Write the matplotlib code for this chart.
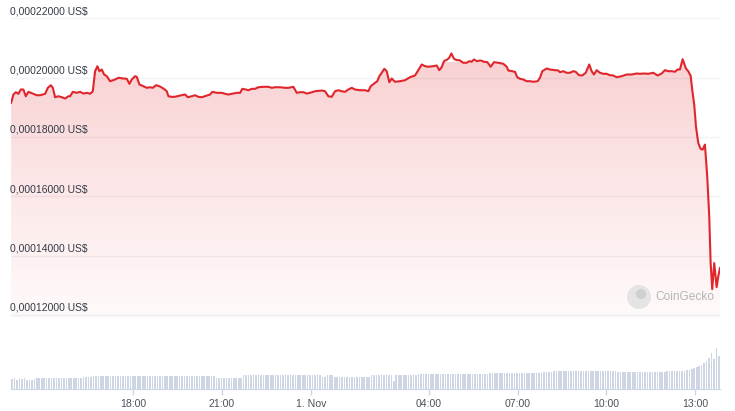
import matplotlib.pyplot as plt
import numpy as np
from matplotlib.colors import LinearSegmentedColormap
from matplotlib.patches import Circle

# hours relative to 1 Nov 00:00, price in 1e-6 US$
hours = [-10.136, -10.058, -9.977, -9.889, -9.808, -9.720, -9.639, -9.551, -9.382, -9.267,
         -9.155, -8.986, -8.895, -8.793, -8.726, -8.648, -8.536, -8.421, -8.310, -8.198,
         -8.140, -8.049, -7.914, -7.802, -7.691, -7.555, -7.464, -7.373, -7.295, -7.217,
         -7.150, -7.068, -6.991, -6.899, -6.788, -6.619, -6.507, -6.338, -6.223, -6.135,
         -6.054, -5.942, -5.885, -5.797, -5.661, -5.546, -5.435, -5.344, -5.232, -5.120,
         -4.985, -4.870, -4.816, -4.701, -4.589, -4.420, -4.251, -4.160, -4.025, -3.913,
         -3.801, -3.686, -3.517, -3.406, -3.328, -3.179, -3.010, -2.898, -2.787, -2.618,
         -2.503, -2.391, -2.313, -2.198, -2.110, -1.995, -1.884, -1.772, -1.603, -1.434,
         -1.319, -1.207, -1.038, -0.869, -0.758, -0.588, -0.473, -0.362, -0.250, -0.135,
         -0.024, 0.145, 0.372, 0.484, 0.595, 0.710, 0.822, 0.933, 1.048, 1.160,
         1.272, 1.387, 1.498, 1.667, 1.836, 1.948, 2.029, 2.175, 2.252, 2.320,
         2.401, 2.489, 2.570, 2.658, 2.739, 2.851, 3.020, 3.189, 3.358, 3.527,
         3.639, 3.754, 3.866, 3.977, 4.146, 4.261, 4.349, 4.430, 4.508, 4.620,
         4.687, 4.755, 4.846, 4.938, 5.026, 5.161, 5.276, 5.364, 5.445, 5.523,
         5.614, 5.749, 5.861, 5.973, 6.088, 6.199, 6.345, 6.514, 6.629, 6.683,
         6.798, 6.909, 6.987, 7.079, 7.190, 7.305, 7.417, 7.528, 7.677, 7.755,
         7.833, 7.982, 8.093, 8.262, 8.374, 8.431, 8.543, 8.658, 8.770, 8.881,
         8.962, 9.074, 9.185, 9.301, 9.422, 9.503, 9.581, 9.673, 9.784, 9.896,
         10.011, 10.122, 10.234, 10.349, 10.518, 10.687, 10.856, 11.025, 11.137, 11.249,
         11.418, 11.587, 11.736, 11.871, 11.982, 12.094, 12.209, 12.321, 12.412, 12.490,
         12.581, 12.693, 12.770, 12.852, 12.913, 12.973, 13.031, 13.109, 13.190, 13.257,
         13.335, 13.413, 13.481, 13.528, 13.582, 13.650, 13.731, 13.785, 13.843]
price_micro = [191.55, 194.36, 195.14, 194.60, 196.05, 196.05, 193.78, 195.27, 194.60, 194.12,
               194.12, 194.60, 196.62, 197.50, 196.62, 193.45, 193.78, 193.45, 193.01, 193.78,
               193.78, 195.27, 194.93, 195.27, 194.70, 194.93, 194.60, 195.47, 202.23, 203.92,
               202.23, 202.80, 201.11, 200.54, 198.85, 199.43, 200.00, 199.76, 199.66, 197.97,
               199.43, 200.54, 200.34, 197.74, 197.16, 196.62, 196.82, 196.62, 197.50, 197.16,
               196.39, 195.47, 193.78, 193.58, 193.61, 194.02, 194.36, 193.45, 193.78, 194.12,
               193.58, 193.45, 194.02, 194.36, 195.27, 194.93, 194.93, 194.60, 194.36, 194.70,
               194.93, 194.93, 196.28, 196.05, 195.81, 196.28, 196.28, 196.82, 196.96, 196.96,
               196.62, 196.82, 196.82, 196.62, 196.62, 196.96, 194.93, 195.14, 195.14, 194.70,
               194.93, 195.47, 195.71, 195.47, 193.78, 193.58, 195.47, 195.81, 195.47, 195.27,
               196.05, 196.62, 196.05, 195.81, 195.81, 195.47, 197.16, 198.31, 198.85, 200.54,
               201.69, 203.04, 202.23, 198.51, 199.76, 198.65, 198.85, 199.19, 200.20, 200.78,
               202.57, 204.49, 203.92, 203.72, 203.92, 204.15, 202.57, 203.58, 205.61, 206.18,
               206.76, 208.21, 206.42, 205.95, 205.95, 205.07, 205.07, 205.61, 205.40, 206.18,
               205.61, 205.84, 205.40, 205.27, 203.72, 205.27, 205.07, 204.73, 203.72, 202.47,
               202.23, 202.03, 200.20, 199.66, 199.43, 198.85, 198.85, 198.65, 198.85, 200.00,
               202.23, 203.14, 202.80, 202.57, 202.47, 201.89, 202.23, 201.69, 201.69, 202.23,
               202.03, 200.88, 200.78, 201.69, 204.49, 202.23, 201.11, 202.57, 201.69, 201.35,
               201.35, 200.88, 200.78, 200.20, 200.54, 201.11, 201.11, 201.45, 201.35, 201.45,
               201.35, 201.69, 200.78, 201.45, 202.57, 202.23, 202.23, 202.03, 202.80, 202.80,
               206.28, 203.14, 202.23, 200.68, 195.37, 190.98, 183.65, 178.04, 176.02, 175.78,
               177.47, 166.76, 153.25, 137.51, 128.72, 137.51, 129.40, 132.98, 135.82]

# relative volume, one bar per 5 minutes (12 per hour)
volume = [
    10, 11, 9.5, 11, 10.5, 11, 9.5, 9, 9.5, 10.5, 11, 11,
    11, 11.5, 11, 11.3, 11, 11.5, 11.3, 11, 11.3, 11.5, 11.3, 11.3,
    11.3, 11.5, 11.3, 11.5, 11.5, 11.8, 12, 12, 12.3, 12.7, 12.7, 13,
    13.3, 13.3, 13.3, 13.3, 13.3, 13.3, 13.3, 13.3, 13.3, 13.3, 13.3, 13.3,
    13.3, 13.3, 13.3, 13.3, 13.3, 13.3, 13.3, 13.3, 13.3, 13.3, 13.3, 13.3,
    13.3, 13.3, 13.3, 13.3, 13.3, 13.3, 13.3, 13.3, 13.3, 13.3, 13.3, 13.3,
    13.3, 13.3, 13.3, 13.3, 13.3, 13.3, 13.3, 13.3, 13.3, 13.3, 13.3, 11.3,
    11.3, 11.3, 11.3, 11.3, 11.3, 11.3, 11.3, 11.3, 11.3, 11.3, 14.3, 14.3,
    14.3, 14.3, 14.3, 14.3, 14.3, 14.3, 14.3, 14.3, 14.3, 14.3, 14.3, 14.3,
    14.3, 14.3, 14.3, 14.3, 14.3, 14.3, 14.3, 14.3, 14.3, 14.3, 14.3, 14.3,
    14.3, 14.3, 14.3, 14.3, 14.3, 14.3, 12, 12, 13.7, 13.7, 13.7, 12.3,
    12.3, 12.3, 12.3, 12.3, 12.3, 12.3, 12.3, 12.3, 12.3, 12.3, 12.3, 12.3,
    12.3, 12.3, 13.7, 13.7, 13.7, 13.7, 13.7, 13.7, 13.7, 13.7, 13.7, 7.7,
    13.7, 13.7, 13.7, 13.7, 13.7, 13.7, 13.7, 13.7, 13.7, 14.7, 14.7, 14.7,
    14.7, 14.7, 14.7, 14.7, 14.7, 14.7, 14.7, 14.7, 14.7, 14.7, 15.3, 15.3,
    15.3, 15.3, 15.3, 15.3, 15.3, 15.3, 15, 15, 15, 15, 15, 15,
    15, 15, 16, 16, 16, 16, 16, 16, 16, 16, 16, 16,
    16, 16, 16, 16, 16, 16, 16, 16, 16, 16, 16, 16,
    17.3, 17.3, 17.3, 17.3, 18.3, 18.3, 18.3, 18.3, 18.3, 18.3, 18.3, 18.3,
    18.3, 18.3, 18.3, 18.3, 18.3, 18.3, 18.3, 18.3, 18.3, 18.3, 18.3, 18.3,
    18.3, 18.3, 18.3, 18.3, 18.3, 18.3, 17.3, 17.3, 17.3, 17.3, 17.3, 17.3,
    17.3, 17.3, 17.3, 17.3, 17.3, 17.3, 17.3, 17.3, 17.3, 17.3, 17.3, 17.3,
    17.3, 17.3, 18.3, 18.3, 18.3, 18.3, 18.3, 18.3, 18.3, 18.3, 19.3, 19.3,
    20, 21, 22, 23, 24.3, 26, 28, 31, 36, 30, 41, 33,
]

tick_hours = [-6, -3, 0, 4, 7, 10, 13]
tick_labels = ['18:00', '21:00', '1. Nov', '04:00', '07:00', '10:00', '13:00']
price_ticks = [0.00012, 0.00014, 0.00016, 0.00018, 0.00020, 0.00022]

plt.rcParams['font.family'] = ['Liberation Sans', 'DejaVu Sans']

W, H = 735, 411
fig = plt.figure(figsize=(W / 100, H / 100), dpi=100)

x0, x1 = -10.14, 13.845
t = np.array(hours)
p = np.array(price_micro) * 1e-6

# price panel: 0.00022 at y=18.5px, 0.00012 at y=315px
px_per_unit = (315 - 18.5) / 0.00010
top_px, bot_px = 16.5, 318
ylo = 0.00012 - (bot_px - 315) / px_per_unit
yhi = 0.00022 + (18.5 - top_px) / px_per_unit
ax = fig.add_axes([11 / W, (H - bot_px) / H, 709 / W, (bot_px - top_px) / H])
ax.set_xlim(x0, x1)
ax.set_ylim(ylo, yhi)
for s in ax.spines.values():
    s.set_visible(False)
ax.set_xticks([])
ax.set_yticks(price_ticks)
ax.tick_params(axis='y', length=0, labelleft=False)
ax.grid(axis='y', color='#f0f2f5', lw=1)
ax.set_axisbelow(True)

red = '#e0262c'
fill = ax.fill_between(t, p, ylo, color='none', lw=0)
cmap = LinearSegmentedColormap.from_list('g', [(0.95, 0.3, 0.3, 0.03), (0.88, 0.15, 0.17, 0.21)])
grad = np.linspace(0, 1, 256).reshape(-1, 1)
img = ax.imshow(grad, cmap=cmap, aspect='auto', origin='lower',
                extent=[x0, x1, ylo, 0.000205], zorder=1)
img.set_clip_path(fill.get_paths()[0], transform=ax.transData)
ax.plot(t, p, color=red, lw=1.5, zorder=3, solid_joinstyle='round')

for v in price_ticks:
    lab = f'{v:.8f}'.replace('.', ',') + ' US$'
    ax.annotate(lab, xy=(0, v), xycoords=('axes fraction', 'data'),
                xytext=(-0.8, 1.6), textcoords='offset points',
                ha='left', va='bottom', fontsize=7.5, color='#333a45')

# watermark
fig.add_artist(Circle((6.39, (H - 297) / 100), 0.12, transform=fig.dpi_scale_trans,
                      facecolor='#e4e4e4', edgecolor='none'))
fig.add_artist(Circle((6.41, (H - 294) / 100), 0.05, transform=fig.dpi_scale_trans,
                      facecolor='#cfcfcf', edgecolor='none'))
fig.text(655 / W, (H - 297) / H, 'CoinGecko', fontsize=8.6, color='#b5b5b5',
         ha='left', va='center')

# volume panel
vax = fig.add_axes([11 / W, (H - 389) / H, 709 / W, 55 / H])
vt = x0 + 0.0833 * np.arange(len(volume)) + 0.04
vax.bar(vt, volume, width=0.055, color='#cdd6e2', align='center')
vax.set_xlim(x0, x1)
vax.set_ylim(0, 55)
for k, s in vax.spines.items():
    s.set_visible(k == 'bottom')
vax.spines['bottom'].set_color('#ccd6eb')
vax.set_yticks([])
vax.set_xticks(tick_hours)
vax.set_xticklabels(tick_labels)
vax.tick_params(axis='x', length=4.5, width=1, color='#ccd6eb', pad=2.5,
                labelsize=7.6, labelcolor='#4d525b')
vax.patch.set_alpha(0)

fig.savefig('out.png', dpi=100)
